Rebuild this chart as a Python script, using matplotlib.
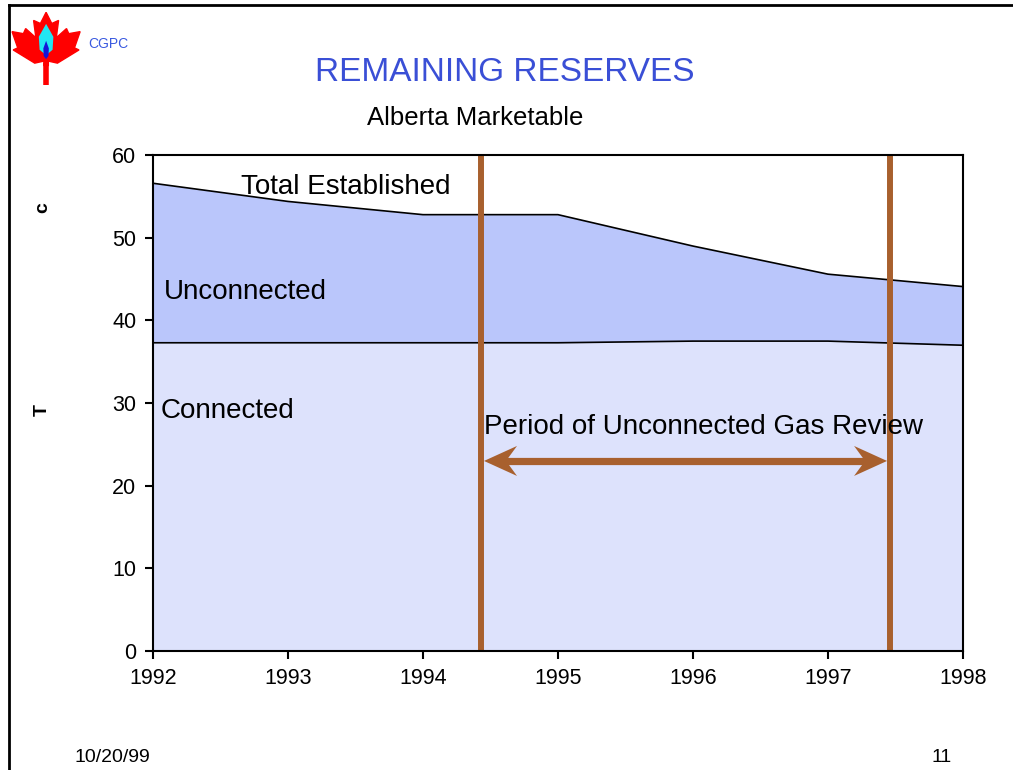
import matplotlib
import numpy as np
from matplotlib.patches import Polygon
from matplotlib.lines import Line2D

matplotlib.use("Agg")
import matplotlib.pyplot as plt

plt.rcParams["font.family"] = ["Liberation Sans", "DejaVu Sans"]

# data (Tcf, Alberta marketable)
years = [1992, 1993, 1994, 1995, 1996, 1997, 1998]
total_established = [56.6, 54.4, 52.8, 52.8, 49.0, 45.6, 44.1]
connected = [37.3, 37.3, 37.3, 37.3, 37.5, 37.5, 37.0]
review_start = 1994.43
review_end = 1997.46
arrow_level = 23.0
y_ticks = [0, 10, 20, 30, 40, 50, 60]

CONNECTED_COLOR = "#dde2fc"
UNCONNECTED_COLOR = "#bac6fb"
BROWN = "#a8602e"
TITLE_BLUE = "#3a4fd6"

fig = plt.figure(figsize=(10.13, 7.70), dpi=100)

# slide border
fig.add_artist(Line2D([0.009, 1.0], [0.994, 0.994], color="black", lw=2, transform=fig.transFigure))
fig.add_artist(Line2D([0.009, 0.009], [0.0, 0.994], color="black", lw=2, transform=fig.transFigure))

# maple leaf logo (rough outline)
leaf = np.array([
    [0.0, 1.0], [0.10, 0.78], [0.22, 0.84], [0.18, 0.50], [0.36, 0.68], [0.40, 0.58],
    [0.60, 0.62], [0.50, 0.30], [0.58, 0.26], [0.20, 0.00], [0.04, 0.04], [0.04, -0.05],
    [0.0, -0.05], [-0.04, -0.05], [-0.04, 0.04], [-0.20, 0.00], [-0.58, 0.26], [-0.50, 0.30],
    [-0.60, 0.62], [-0.40, 0.58], [-0.36, 0.68], [-0.18, 0.50], [-0.22, 0.84], [-0.10, 0.78],
])
cx, cy, sx, sy = 0.0455, 0.918, 0.056, 0.066
fig.add_artist(Polygon(np.c_[cx + leaf[:, 0] * sx, cy + leaf[:, 1] * sy], closed=True,
                       facecolor="red", edgecolor="red", transform=fig.transFigure))
fig.add_artist(Line2D([cx, cx], [cy, 0.889], color="red", lw=4, solid_capstyle="butt",
                      transform=fig.transFigure))
flame = np.array([[0.0, 1.0], [0.45, 0.3], [0.4, -0.4], [0.0, -0.7], [-0.4, -0.4], [-0.45, 0.3]])
fig.add_artist(Polygon(np.c_[cx + flame[:, 0] * 0.016, 0.945 + flame[:, 1] * 0.024], closed=True,
                       facecolor="#22e6f2", edgecolor="none", transform=fig.transFigure))
fig.add_artist(Polygon(np.c_[cx + flame[:, 0] * 0.006, 0.933 + flame[:, 1] * 0.014], closed=True,
                       facecolor="#1414d8", edgecolor="none", transform=fig.transFigure))
fig.text(0.087, 0.943, "CGPC", fontsize=10, color="#3a5ae0", va="center")

fig.text(0.498, 0.906, "REMAINING RESERVES", fontsize=24, color=TITLE_BLUE, ha="center", va="center")
fig.text(0.469, 0.847, "Alberta Marketable", fontsize=18.5, color="black", ha="center", va="center")

fig.text(0.042, 0.730, "c", fontsize=14, fontweight="bold", rotation=90, ha="center", va="center")
fig.text(0.042, 0.468, "T", fontsize=14, fontweight="bold", rotation=90, ha="center", va="center")

fig.text(0.074, 0.016, "10/20/99", fontsize=14, family=["Liberation Sans Narrow", "Liberation Sans"],
         ha="left", va="center")
fig.text(0.940, 0.016, "11", fontsize=14, family=["Liberation Sans Narrow", "Liberation Sans"],
         ha="right", va="center")

ax = fig.add_axes([0.151, 0.1545, 0.7996, 0.644])
ax.fill_between(years, 0, connected, color=CONNECTED_COLOR, lw=0)
ax.fill_between(years, connected, total_established, color=UNCONNECTED_COLOR, lw=0)
ax.plot(years, connected, color="black", lw=1.2)
ax.plot(years, total_established, color="black", lw=1.2)

ax.set_xlim(1992, 1998)
ax.set_ylim(0, 60)
ax.set_xticks(years)
ax.set_yticks(y_ticks)
ax.tick_params(axis="both", labelsize=15.5, length=6, width=1.5, direction="out", pad=6)
for sp in ax.spines.values():
    sp.set_linewidth(1.5)

ax.axvline(review_start, color=BROWN, lw=4.3)
ax.axvline(review_end, color=BROWN, lw=4.3)

# double arrow with notched heads, drawn in pixel space
fig.canvas.draw()
(x0, y0), (x1, y1) = ax.transData.transform([(review_start, arrow_level), (review_end, arrow_level)])
x0 += 3
x1 -= 3
ax.plot([review_start, review_end], [arrow_level, arrow_level], color="white", lw=0)
fig.add_artist(Line2D([x0 + 20, x1 - 20], [y0, y1], color=BROWN, lw=5.2, transform=None))
head = np.array([[0, 0], [33, 15], [22, 0], [33, -15]], dtype=float)
fig.add_artist(Polygon(np.c_[x0 + head[:, 0], y0 + head[:, 1]], closed=True,
                       facecolor=BROWN, edgecolor="none", transform=None))
fig.add_artist(Polygon(np.c_[x1 - head[:, 0], y1 + head[:, 1]], closed=True,
                       facecolor=BROWN, edgecolor="none", transform=None))

ax.text(1992.65, 56.2, "Total Established", fontsize=20, ha="left", va="center")
ax.text(1992.08, 43.5, "Unconnected", fontsize=20, ha="left", va="center")
ax.text(1992.06, 29.0, "Connected", fontsize=20, ha="left", va="center")
ax.text(1994.45, 27.1, "Period of Unconnected Gas Review", fontsize=20, ha="left", va="center")

fig.savefig("out.png", dpi=100)
